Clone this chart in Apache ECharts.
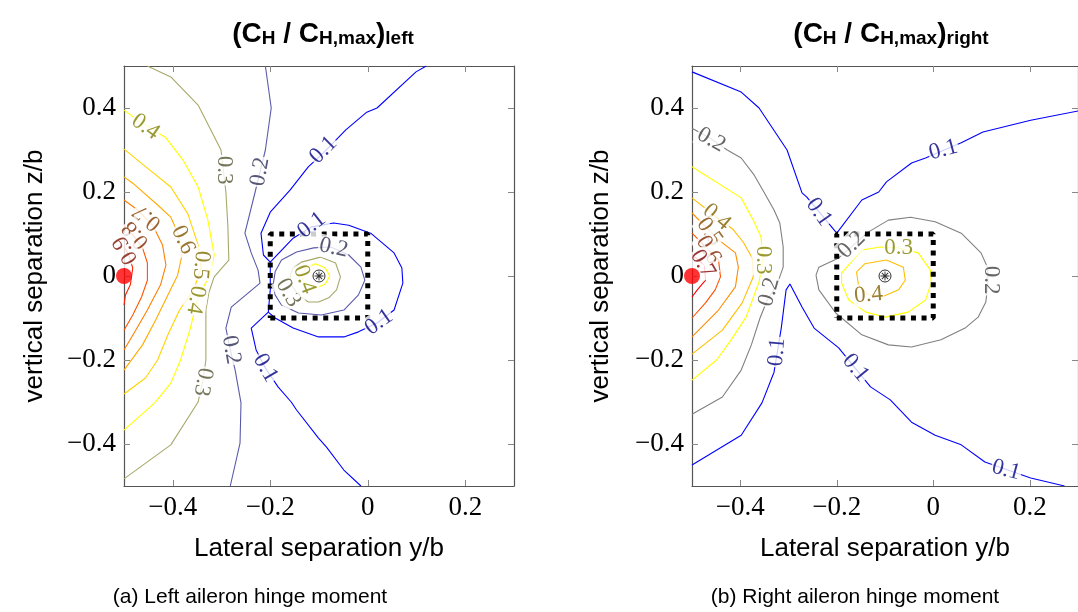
<!DOCTYPE html>
<html>
<head>
<meta charset="utf-8">
<script src="https://cdn.jsdelivr.net/npm/echarts@6/dist/echarts.min.js"></script>
<style>
  html, body { margin: 0; padding: 0; background: #fff; }
  #chart { width: 1078px; height: 612px; }
</style>
</head>
<body>
<div id="chart"></div>
<script>
// ---------- axis ticks ----------
const xTicks = [-0.4, -0.2, 0, 0.2];
const yTicks = [-0.4, -0.2, 0, 0.2, 0.4];

// ---------- left aileron: contour lines [y/b, z/b] ----------
const left01Outer = [[0.120,0.5],[0.099,0.486],[0.019,0.400],[-0.002,0.390],[-0.045,0.348],[-0.091,0.293],[-0.122,0.260],[-0.159,0.205],[-0.200,0.152],[-0.219,0.102],[-0.214,0.050],[-0.200,0.033],[-0.200,-0.033],[-0.204,-0.086],[-0.239,-0.124],[-0.229,-0.176],[-0.210,-0.219],[-0.184,-0.264],[-0.157,-0.300],[-0.146,-0.319],[-0.101,-0.386],[-0.085,-0.407],[-0.049,-0.462],[-0.014,-0.5]];
const left01Loop = [[-0.200,0.033],[-0.153,0.090],[-0.115,0.117],[-0.070,0.126],[-0.039,0.121],[0.006,0.102],[0.054,0.055],[0.070,0.019],[0.072,-0.017],[0.054,-0.081],[0.019,-0.112],[-0.019,-0.133],[-0.049,-0.145],[-0.101,-0.145],[-0.153,-0.124],[-0.190,-0.100],[-0.204,-0.086]];
const left02Outer = [[-0.210,0.5],[-0.198,0.400],[-0.210,0.300],[-0.231,0.200],[-0.252,0.102],[-0.239,0.055],[-0.225,0.014],[-0.221,-0.017],[-0.245,-0.040],[-0.280,-0.074],[-0.291,-0.124],[-0.282,-0.176],[-0.272,-0.224],[-0.260,-0.302],[-0.262,-0.398],[-0.282,-0.5]];
const left02Loop = [[-0.177,0.038],[-0.146,0.057],[-0.111,0.067],[-0.076,0.069],[-0.039,0.050],[-0.014,0.021],[-0.006,-0.010],[-0.019,-0.045],[-0.049,-0.081],[-0.095,-0.093],[-0.142,-0.088],[-0.177,-0.069],[-0.190,-0.045],[-0.194,-0.021],[-0.190,0.010],[-0.177,0.038]];
const left03Outer = [[-0.452,0.5],[-0.404,0.474],[-0.348,0.407],[-0.301,0.300],[-0.291,0.200],[-0.287,0.121],[-0.285,0.038],[-0.315,-0.002],[-0.326,-0.040],[-0.332,-0.081],[-0.332,-0.200],[-0.338,-0.248],[-0.348,-0.300],[-0.404,-0.402],[-0.5,-0.483]];
const left03Loop = [[-0.159,0.002],[-0.153,0.019],[-0.136,0.033],[-0.097,0.045],[-0.066,0.031],[-0.056,-0.002],[-0.064,-0.033],[-0.080,-0.052],[-0.101,-0.062],[-0.122,-0.062],[-0.142,-0.045],[-0.157,-0.021],[-0.159,0.002]];
const left04Outer = [[-0.5,0.395],[-0.472,0.371],[-0.414,0.329],[-0.379,0.276],[-0.348,0.212],[-0.328,0.133],[-0.315,0.050],[-0.324,0.002],[-0.348,-0.050],[-0.365,-0.129],[-0.384,-0.200],[-0.404,-0.255],[-0.437,-0.302],[-0.5,-0.367]];
const left04Loop = [[-0.078,0],[-0.087,0.019],[-0.107,0.029],[-0.128,0.019],[-0.136,0],[-0.128,-0.019],[-0.107,-0.029],[-0.087,-0.019],[-0.078,0]];
const left05 = [[-0.5,0.302],[-0.452,0.257],[-0.404,0.212],[-0.369,0.148],[-0.348,0.074],[-0.342,0.019],[-0.357,-0.033],[-0.386,-0.081],[-0.410,-0.140],[-0.431,-0.200],[-0.456,-0.243],[-0.5,-0.281]];
const left06 = [[-0.5,0.236],[-0.482,0.221],[-0.431,0.169],[-0.404,0.140],[-0.388,0.098],[-0.381,0.050],[-0.390,0.002],[-0.410,-0.045],[-0.435,-0.105],[-0.462,-0.164],[-0.5,-0.224]];
const left07 = [[-0.5,0.181],[-0.472,0.157],[-0.441,0.121],[-0.421,0.074],[-0.414,0.026],[-0.425,-0.021],[-0.452,-0.081],[-0.476,-0.129],[-0.5,-0.176]];
const left08 = [[-0.5,0.121],[-0.482,0.098],[-0.462,0.067],[-0.452,0.031],[-0.452,-0.010],[-0.464,-0.050],[-0.482,-0.093],[-0.5,-0.129]];
const left09 = [[-0.5,0.069],[-0.491,0.052],[-0.482,0.019],[-0.487,-0.021],[-0.497,-0.045],[-0.5,-0.069]];

const leftContours = [
  { level: '0.1', points: left01Outer }, { level: '0.1', points: left01Loop },
  { level: '0.2', points: left02Outer }, { level: '0.2', points: left02Loop },
  { level: '0.3', points: left03Outer }, { level: '0.3', points: left03Loop },
  { level: '0.4', points: left04Outer }, { level: '0.4', points: left04Loop },
  { level: '0.5', points: left05 }, { level: '0.6', points: left06 },
  { level: '0.7', points: left07 }, { level: '0.8', points: left08 },
  { level: '0.9', points: left09 }
];
// contour labels: [y/b, z/b, level]
const leftLabelPoints = [
  [-0.091,0.300,'0.1'],[-0.210,-0.219,'0.1'],[-0.115,0.121,'0.1'],[0.023,-0.110,'0.1'],
  [-0.221,0.248,'0.2'],[-0.280,-0.176,'0.2'],[-0.070,0.067,'0.2'],
  [-0.295,0.252,'0.3'],[-0.338,-0.252,'0.3'],[-0.163,-0.040,'0.3'],
  [-0.456,0.355,'0.4'],[-0.353,-0.057,'0.4'],[-0.130,-0.008,'0.4'],
  [-0.342,0.026,'0.5'],[-0.379,0.086,'0.6'],
  [-0.452,0.140,'0.7'],[-0.476,0.098,'0.8'],[-0.497,0.062,'0.9']
];
const leftLabelAngles = [45,-60,38,35, 80,-80,-12, -90,-100,-60, -35,-100,-70, -95,-65, 140,130,120];

// ---------- right aileron: contour lines ----------
const right01Upper = [[-0.5,0.486],[-0.398,0.438],[-0.361,0.400],[-0.303,0.300],[-0.272,0.198],[-0.262,0.188],[-0.200,0.102],[-0.148,0.181],[-0.113,0.200],[-0.097,0.224],[-0.045,0.269],[-0.016,0.281],[0.058,0.317],[0.103,0.343],[0.202,0.371],[0.301,0.393]];
const right01Lower = [[-0.5,-0.450],[-0.398,-0.379],[-0.355,-0.302],[-0.330,-0.229],[-0.315,-0.124],[-0.305,-0.033],[-0.297,-0.019],[-0.272,-0.074],[-0.247,-0.124],[-0.196,-0.171],[-0.130,-0.264],[-0.089,-0.295],[-0.045,-0.348],[0.004,-0.379],[0.058,-0.402],[0.107,-0.443],[0.202,-0.481],[0.272,-0.5]];
const right02Outer = [[-0.5,0.352],[-0.464,0.329],[-0.427,0.300],[-0.398,0.281],[-0.371,0.240],[-0.351,0.200],[-0.330,0.157],[-0.318,0.126],[-0.311,0.069],[-0.311,0.021],[-0.324,-0.021],[-0.344,-0.057],[-0.359,-0.100],[-0.377,-0.164],[-0.398,-0.224],[-0.437,-0.288],[-0.5,-0.329]];
const right02Loop = [[-0.243,0.002],[-0.237,0.021],[-0.196,0.043],[-0.134,0.105],[-0.093,0.133],[-0.047,0.140],[0.004,0.129],[0.058,0.102],[0.099,0.055],[0.113,0.019],[0.113,-0.021],[0.109,-0.062],[0.093,-0.098],[0.066,-0.124],[0.016,-0.152],[-0.045,-0.169],[-0.093,-0.164],[-0.148,-0.140],[-0.202,-0.088],[-0.237,-0.033],[-0.243,0.002]];
const right03Outer = [[-0.5,0.260],[-0.398,0.186],[-0.373,0.133],[-0.357,0.093],[-0.353,0.038],[-0.361,-0.014],[-0.388,-0.098],[-0.419,-0.152],[-0.449,-0.200],[-0.5,-0.248]];
const right03Loop = [[-0.190,0.007],[-0.148,0.062],[-0.110,0.069],[-0.072,0.067],[-0.031,0.055],[-0.006,0.014],[-0.004,-0.017],[-0.016,-0.057],[-0.052,-0.086],[-0.099,-0.098],[-0.140,-0.086],[-0.175,-0.057],[-0.190,-0.017],[-0.190,0.007]];
const right04Outer = [[-0.5,0.186],[-0.449,0.140],[-0.416,0.112],[-0.394,0.081],[-0.375,0.043],[-0.373,-0.002],[-0.396,-0.064],[-0.437,-0.129],[-0.5,-0.186]];
const right04Loop = [[-0.159,0.010],[-0.142,0.029],[-0.097,0.038],[-0.062,0.021],[-0.058,-0.010],[-0.072,-0.033],[-0.103,-0.048],[-0.134,-0.045],[-0.155,-0.021],[-0.159,0.010]];
const right05 = [[-0.5,0.150],[-0.445,0.086],[-0.410,0.055],[-0.404,0.021],[-0.410,-0.026],[-0.445,-0.081],[-0.5,-0.145]];
const right06 = [[-0.5,0.102],[-0.445,0.038],[-0.441,-0.002],[-0.452,-0.033],[-0.472,-0.064],[-0.5,-0.100]];
const right07 = [[-0.5,0.050],[-0.474,0.026],[-0.472,-0.010],[-0.489,-0.033],[-0.5,-0.050]];

const rightContours = [
  { level: '0.1', points: right01Upper }, { level: '0.1', points: right01Lower },
  { level: '0.2', points: right02Outer }, { level: '0.2', points: right02Loop },
  { level: '0.3', points: right03Outer }, { level: '0.3', points: right03Loop },
  { level: '0.4', points: right04Outer }, { level: '0.4', points: right04Loop },
  { level: '0.5', points: right05 }, { level: '0.6', points: right06 },
  { level: '0.7', points: right07 }
];
const rightLabelPoints = [
  [-0.237,0.152,'0.1'],[0.021,0.300,'0.1'],[-0.324,-0.181,'0.1'],[-0.161,-0.219,'0.1'],[0.151,-0.462,'0.1'],
  [-0.460,0.324,'0.2'],[-0.340,-0.038,'0.2'],[-0.169,0.074,'0.2'],[0.120,-0.010,'0.2'],
  [-0.353,0.038,'0.3'],[-0.072,0.067,'0.3'],
  [-0.449,0.140,'0.4'],[-0.134,-0.045,'0.4'],
  [-0.464,0.105,'0.5'],[-0.466,0.062,'0.6'],[-0.478,0.029,'0.7']
];
const rightLabelAngles = [-55,15,85,-50,-15, -30,75,45,-90, -90,0, -40,5, -55,-60,-60];

// ---------- markers ----------
const boxY = [-0.2, 0];      // probe window, lateral extent
const boxZ = [-0.1, 0.1];    // probe window, vertical extent
const vortexPos = [-0.1, 0];
const wingTipPos = [-0.5, 0];

// ---------- colours per level ----------
const leftColors = { '0.1':'#0000ff','0.2':'#5a5aaa','0.3':'#a8a86a','0.4':'#ffff00','0.5':'#ffd400','0.6':'#ffaa00','0.7':'#ff7f00','0.8':'#ff5500','0.9':'#ff2200' };
const rightColors = { '0.1':'#0000ff','0.2':'#808080','0.3':'#ffff00','0.4':'#ffbf00','0.5':'#ff8c00','0.6':'#ff5000','0.7':'#ff0000' };
function darker(hex) {
  const n = parseInt(hex.slice(1), 16);
  const r = (n >> 16) >> 1, g = ((n >> 8) & 255) >> 1, b = (n & 255) >> 1;
  return 'rgb(' + r + ',' + g + ',' + b + ')';
}

const SERIF = 'Liberation Serif';
const SANS = 'Liberation Sans';
const fmt = v => (Math.abs(v) < 1e-9 ? '0' : (v < 0 ? '\u2212' : '') + Math.abs(v).toFixed(1));

function xAxes(grid) {
  const base = {
    type: 'value', gridIndex: grid, min: -0.5, max: 0.3,
    axisLine: { show: true, onZero: false, lineStyle: { color: '#555', width: 1.2 } },
    axisTick: { show: true, inside: true, length: 6, customValues: xTicks, lineStyle: { color: '#888' } },
    splitLine: { show: false }
  };
  return [
    Object.assign({}, base, {
      position: 'bottom',
      axisLabel: { customValues: xTicks, formatter: fmt, fontFamily: SERIF, fontSize: 27, color: '#000', margin: 8 },
      name: 'Lateral separation y/b', nameLocation: 'middle', nameGap: 50,
      nameTextStyle: { fontFamily: SANS, fontSize: 26, color: '#000' }
    }),
    Object.assign({}, base, { position: 'top', axisLabel: { show: false } })
  ];
}
function yAxes(grid, gap) {
  const base = {
    type: 'value', gridIndex: grid, min: -0.5, max: 0.5,
    axisLine: { show: true, onZero: false, lineStyle: { color: '#555', width: 1.2 } },
    axisTick: { show: true, inside: true, length: 6, customValues: yTicks, lineStyle: { color: '#888' } },
    splitLine: { show: false }
  };
  return [
    Object.assign({}, base, {
      position: 'left',
      axisLabel: { customValues: yTicks, formatter: fmt, fontFamily: SERIF, fontSize: 27, color: '#000', margin: 8 },
      name: 'vertical separation z/b', nameLocation: 'middle', nameGap: gap,
      nameTextStyle: { fontFamily: SANS, fontSize: 26, color: '#000' }
    }),
    Object.assign({}, base, { position: 'right', axisLabel: { show: false } })
  ];
}

function contourSeries(list, colors, xi, yi) {
  return list.map(c => ({
    type: 'line', xAxisIndex: xi, yAxisIndex: yi, data: c.points,
    showSymbol: false, symbol: 'none', silent: true, z: 2,
    lineStyle: { color: colors[c.level], width: 1.1 }
  }));
}
function labelSeries(points, angles, colors, xi, yi) {
  return {
    type: 'scatter', xAxisIndex: xi, yAxisIndex: yi, symbolSize: 0, silent: true, z: 5,
    label: { show: true, position: 'inside', fontFamily: SERIF, fontSize: 23, backgroundColor: '#fff', padding: [0, 1] },
    data: points.map((p, i) => ({
      value: [p[0], p[1]],
      label: { formatter: p[2], rotate: angles[i], color: darker(colors[p[2]]) }
    }))
  };
}
function boxSeries(xi, yi) {
  return {
    type: 'line', xAxisIndex: xi, yAxisIndex: yi, showSymbol: false, symbol: 'none', silent: true, z: 4,
    data: [[boxY[0], boxZ[0]], [boxY[1], boxZ[0]], [boxY[1], boxZ[1]], [boxY[0], boxZ[1]], [boxY[0], boxZ[0]]],
    lineStyle: { color: '#000', width: 5, type: [5, 5.6], cap: 'butt' }
  };
}
const asterisk = 'path://M-0.5,-5L0.5,-5L0.5,5L-0.5,5Z M-5,0.5L-5,-0.5L5,-0.5L5,0.5Z M-3.89,-3.18L-3.18,-3.89L3.89,3.18L3.18,3.89Z M-3.18,3.89L-3.89,3.18L3.18,-3.89L3.89,-3.18Z';
function markerSeries(xi, yi) {
  return [
    { type: 'scatter', xAxisIndex: xi, yAxisIndex: yi, silent: true, z: 7, data: [vortexPos],
      symbol: 'circle', symbolSize: 12, itemStyle: { color: '#fff', borderColor: '#000', borderWidth: 1 } },
    { type: 'scatter', xAxisIndex: xi, yAxisIndex: yi, silent: true, z: 8, data: [vortexPos],
      symbol: asterisk, symbolSize: 9, itemStyle: { color: '#000' } },
    { type: 'scatter', xAxisIndex: xi, yAxisIndex: yi, silent: true, z: 9, clip: false, data: [wingTipPos],
      symbol: 'circle', symbolSize: 16, itemStyle: { color: '#ff0000' } }
  ];
}

const titleRich = {
  a: { fontFamily: SANS, fontWeight: 'bold', fontSize: 28, lineHeight: 32, verticalAlign: 'bottom', color: '#000' },
  s: { fontFamily: SANS, fontWeight: 'bold', fontSize: 19, lineHeight: 17, verticalAlign: 'bottom', color: '#000' }
};

const chart = echarts.init(document.getElementById('chart'), null, { renderer: 'canvas' });
chart.setOption({
  animation: false,
  backgroundColor: '#fff',
  title: [
    { text: '{a|(C}{s|H}{a| / C}{s|H,max}{a|)}{s|left}', left: 318, top: 11, textAlign: 'center', textStyle: { rich: titleRich } },
    { text: '{a|(C}{s|H}{a| / C}{s|H,max}{a|)}{s|right}', left: 886, top: 11, textAlign: 'center', textStyle: { rich: titleRich } }
  ],
  grid: [
    { left: 124, top: 66, width: 390, height: 420 },
    { left: 692, top: 66, width: 388, height: 420 }
  ],
  xAxis: [].concat(xAxes(0), xAxes(1)),
  yAxis: [].concat(yAxes(0, 76), yAxes(1, 78)),
  graphic: [
    { type: 'text', style: { text: '(a) Left aileron hinge moment', font: '21px "Liberation Sans"', fill: '#000', x: 250, y: 597, align: 'center', verticalAlign: 'middle' } },
    { type: 'text', style: { text: '(b) Right aileron hinge moment', font: '21px "Liberation Sans"', fill: '#000', x: 855, y: 597, align: 'center', verticalAlign: 'middle' } }
  ],
  series: [].concat(
    contourSeries(leftContours, leftColors, 0, 0),
    [labelSeries(leftLabelPoints, leftLabelAngles, leftColors, 0, 0), boxSeries(0, 0)],
    markerSeries(0, 0),
    contourSeries(rightContours, rightColors, 2, 2),
    [labelSeries(rightLabelPoints, rightLabelAngles, rightColors, 2, 2), boxSeries(2, 2)],
    markerSeries(2, 2)
  )
});
</script>
</body>
</html>
